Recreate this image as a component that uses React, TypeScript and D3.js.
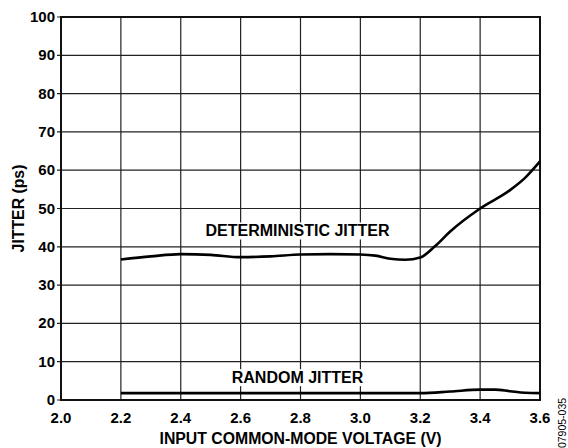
import React, { useEffect, useRef } from "react";
import * as d3 from "d3";

const djVolts = [2.2, 2.3, 2.4, 2.5, 2.6, 2.7, 2.8, 2.9, 3.0, 3.05, 3.1, 3.15, 3.2, 3.25, 3.3, 3.4, 3.5, 3.55, 3.6];
const djJitter = [36.7, 37.5, 38.1, 37.9, 37.3, 37.5, 38.0, 38.1, 38.0, 37.7, 36.9, 36.6, 37.2, 40.2, 44.0, 50.0, 54.8, 58.0, 62.3];

const rjVolts = [2.2, 2.4, 2.6, 2.8, 3.0, 3.2, 3.3, 3.4, 3.45, 3.5, 3.55, 3.6];
const rjJitter = [1.8, 1.8, 1.8, 1.8, 1.8, 1.8, 2.2, 2.7, 2.7, 2.3, 1.9, 1.8];

const xTicks = [2.0, 2.2, 2.4, 2.6, 2.8, 3.0, 3.2, 3.4, 3.6];
const yTicks = [0, 10, 20, 30, 40, 50, 60, 70, 80, 90, 100];

const width = 568, height = 448;
const margin = { top: 17, right: 28, bottom: 48, left: 61 };
const font = "'Liberation Sans', Arial, sans-serif";

export default function App() {
  const svgRef = useRef<SVGSVGElement | null>(null);

  useEffect(() => {
    document.body.style.margin = "0";
    document.body.style.overflow = "hidden";
    if (!svgRef.current) return;
    const svg = d3.select(svgRef.current);
    svg.selectAll("*").remove();

    const x = d3.scaleLinear().domain([2.0, 3.6]).range([margin.left, width - margin.right]);
    const y = d3.scaleLinear().domain([0, 100]).range([height - margin.bottom, margin.top]);

    // grid
    svg.append("g")
      .selectAll("line")
      .data(yTicks)
      .enter()
      .append("line")
      .attr("x1", x(2.0) - 4)
      .attr("x2", x(3.6))
      .attr("y1", d => y(d))
      .attr("y2", d => y(d))
      .attr("stroke", "#222")
      .attr("stroke-width", 1.2);

    svg.append("g")
      .selectAll("line")
      .data(xTicks)
      .enter()
      .append("line")
      .attr("x1", d => x(d))
      .attr("x2", d => x(d))
      .attr("y1", y(0))
      .attr("y2", y(100))
      .attr("stroke", "#222")
      .attr("stroke-width", 1.2);

    // frame
    svg.append("rect")
      .attr("x", x(2.0))
      .attr("y", y(100))
      .attr("width", x(3.6) - x(2.0))
      .attr("height", y(0) - y(100))
      .attr("fill", "none")
      .attr("stroke", "#111")
      .attr("stroke-width", 2);

    // curve labels on white boxes
    const labels = [
      { text: "DETERMINISTIC JITTER", xv: 2.79, yv: 42.7 },
      { text: "RANDOM JITTER", xv: 2.79, yv: 4.4 },
    ];
    labels.forEach(l => {
      const t = svg.append("text")
        .attr("x", x(l.xv))
        .attr("y", y(l.yv))
        .attr("text-anchor", "middle")
        .attr("font-family", font)
        .attr("font-weight", "bold")
        .attr("font-size", 16)
        .text(l.text);
      const bb = (t.node() as SVGTextElement).getBBox();
      svg.insert("rect", "text")
        .attr("x", bb.x - 3)
        .attr("y", bb.y)
        .attr("width", bb.width + 6)
        .attr("height", bb.height)
        .attr("fill", "white");
    });

    const line = d3.line<[number, number]>()
      .x(d => x(d[0]))
      .y(d => y(d[1]))
      .curve(d3.curveMonotoneX);

    svg.append("path")
      .attr("d", line(djVolts.map((v, i) => [v, djJitter[i]])))
      .attr("fill", "none")
      .attr("stroke", "black")
      .attr("stroke-width", 2.6);

    svg.append("path")
      .attr("d", line(rjVolts.map((v, i) => [v, rjJitter[i]])))
      .attr("fill", "none")
      .attr("stroke", "black")
      .attr("stroke-width", 2.6);

    // tick labels
    svg.append("g")
      .selectAll("text")
      .data(yTicks)
      .enter()
      .append("text")
      .attr("x", x(2.0) - 6)
      .attr("y", d => y(d) + 5)
      .attr("text-anchor", "end")
      .attr("font-family", font)
      .attr("font-weight", "bold")
      .attr("font-size", 15)
      .text(d => d);

    svg.append("g")
      .selectAll("text")
      .data(xTicks)
      .enter()
      .append("text")
      .attr("x", d => x(d))
      .attr("y", y(0) + 23)
      .attr("text-anchor", "middle")
      .attr("font-family", font)
      .attr("font-weight", "bold")
      .attr("font-size", 15)
      .text(d => d.toFixed(1));

    svg.append("text")
      .attr("x", (x(2.0) + x(3.6)) / 2)
      .attr("y", 444)
      .attr("text-anchor", "middle")
      .attr("font-family", font)
      .attr("font-weight", "bold")
      .attr("font-size", 15.8)
      .text("INPUT COMMON-MODE VOLTAGE (V)");

    svg.append("text")
      .attr("transform", `translate(24,${(y(0) + y(100)) / 2}) rotate(-90)`)
      .attr("text-anchor", "middle")
      .attr("font-family", font)
      .attr("font-weight", "bold")
      .attr("font-size", 15.8)
      .text("JITTER (ps)");

    svg.append("text")
      .attr("transform", `translate(566,423) rotate(-90)`)
      .attr("text-anchor", "middle")
      .attr("font-family", font)
      .attr("font-size", 10.5)
      .text("07905-035");
  }, []);

  return (
    <div style={{ position: "absolute", left: 0, top: 0 }}>
      <svg ref={svgRef} width={width} height={height} style={{ display: "block", background: "white" }}></svg>
    </div>
  );
}
